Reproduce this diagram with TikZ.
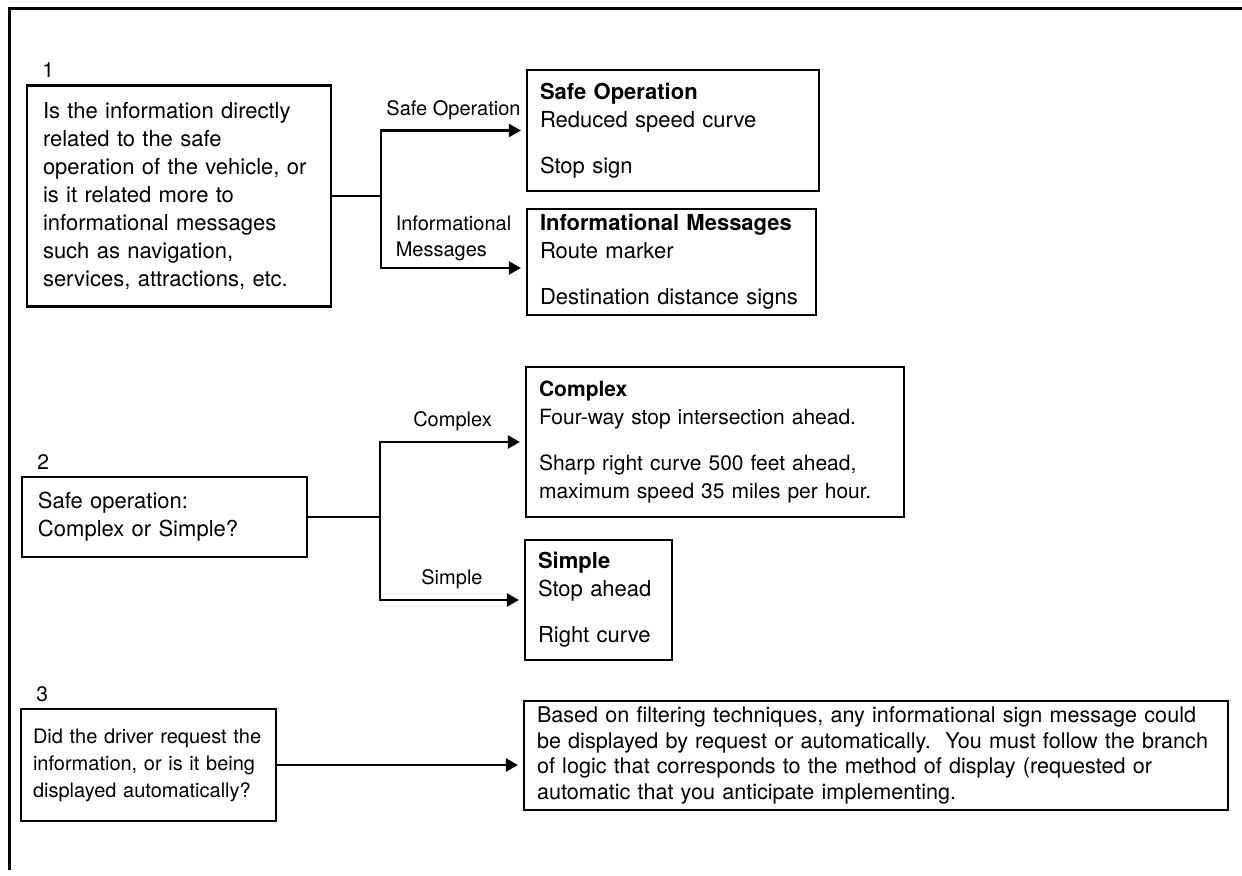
\documentclass[tikz,border=0pt]{standalone}
\usepackage{fontspec}
\setmainfont{TeX Gyre Heros}
\usetikzlibrary{arrows.meta}

\begin{document}
\begin{tikzpicture}[x=0.5pt,y=-0.5pt,
  box/.style={draw,line width=1.1pt,inner ysep=0pt,align=left,
    font=\fontsize{11}{14}\selectfont},
  qbox/.style={box,inner xsep=8pt},
  abox/.style={box,inner xsep=6.5pt},
  link/.style={line width=1.1pt},
  arr/.style={link,-{Triangle[length=6pt,width=6.5pt]},shorten >=2.5pt},
  lbl/.style={inner sep=0pt,align=left,font=\fontsize{10}{13}\selectfont},
  num/.style={anchor=south west,inner sep=0pt,xshift=8pt,yshift=3pt,
    font=\fontsize{10.5}{12}\selectfont}]
\useasboundingbox (0,0) rectangle (1242,876);
% outer frame, only top and left edges
\draw[line width=1.5pt] (1242,9) -- (9,9) -- (9,870);

% step 1: safe operation or informational
\node[qbox,text width=136pt,minimum height=110.5pt] (q1) at (179,196)
  {Is the information directly\\related to the safe\\operation of the vehicle, or\\is it related more to\\informational messages\\such as navigation,\\services, attractions, etc.};
\node[abox,text width=133pt,minimum height=60.5pt] (safe) at (673,130.5)
  {\textbf{Safe Operation}\\Reduced speed curve\\[9pt]Stop sign};
\node[abox,text width=131.5pt,minimum height=53pt] (info) at (671.5,262)
  {\textbf{Informational Messages}\\Route marker\\[9pt]Destination distance signs};
\coordinate (j1) at ([xshift=24.5pt]q1.east);
\draw[link] (q1.east) -- (j1);
\draw[arr] (j1) |- (safe.west) node[lbl,pos=0.75,above=5pt] {Safe Operation};
\draw[arr] (j1) |- ([yshift=-3pt]info.west) node[lbl,pos=0.75,above=3pt] {Informational\\Messages};

% step 2: complex or simple
\node[qbox,text width=126.5pt,minimum height=40pt] (q2) at (164.5,517)
  {Safe operation:\\Complex or Simple?};
\node[abox,text width=176pt,minimum height=75pt,font=\fontsize{10.5}{14}\selectfont] (complex) at (715,442)
  {\textbf{Complex}\\Four-way stop intersection ahead.\\[9pt]Sharp right curve 500 feet ahead,\\maximum speed 35 miles per hour.};
\node[abox,text width=60.5pt,minimum height=60pt] (simple) at (598.5,600)
  {\textbf{Simple}\\Stop ahead\\[9pt]Right curve};
\coordinate (j2) at ([xshift=36pt]q2.east);
\draw[link] (q2.east) -- (j2);
\draw[arr] (j2) |- (complex.west) node[lbl,pos=0.75,above=5pt] {Complex};
\draw[arr] (j2) |- (simple.west) node[lbl,pos=0.75,above=5pt] {Simple};

% step 3: requested or automatic
\node[qbox,inner xsep=6pt,text width=115.5pt,minimum height=56pt,font=\fontsize{10}{13.5}\selectfont] (q3) at (148.5,765)
  {Did the driver request the\\information, or is it being\\displayed automatically?};
\node[abox,text width=339pt,minimum height=54.5pt,font=\fontsize{10.8}{12.8}\selectfont] (filter) at (876,755.5)
  {Based on filtering techniques, any informational sign message could\\be displayed by request or automatically.\ \ You must follow the branch\\of logic that corresponds to the method of display (requested or\\automatic that you anticipate implementing.};
\draw[arr] (q3.east) -- (q3.east -| filter.west);

\foreach \n/\q in {1/q1,2/q2,3/q3}
  \node[num] at (\q.north west) {\n};
\end{tikzpicture}
\end{document}
